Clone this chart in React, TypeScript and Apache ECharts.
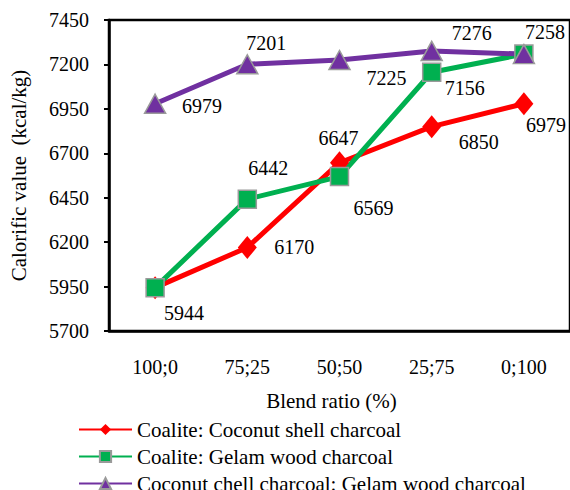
import React, { useEffect, useRef } from "react";
import * as echarts from "echarts";

const categories = ["100;0", "75;25", "50;50", "25;75", "0;100"];
const coconutShell = [5944, 6170, 6647, 6850, 6979];
const gelamWood = [5944, 6442, 6569, 7156, 7258];
const coconutGelam = [6979, 7201, 7225, 7276, 7258];
const seriesNames = [
  "Coalite: Coconut shell charcoal",
  "Coalite: Gelam wood charcoal",
  "Coconut chell charcoal: Gelam wood charcoal",
];

// label offsets (layout only); null = label hidden (shared value)
const redOffsets: ([number, number] | null)[] = [[29, 25], [47, 0], [-1, -25], [47, 15], [22, 21]];
const greenOffsets: ([number, number] | null)[] = [null, [21, -31], [34, 31], [33, 16], [21, -22]];
const purpleOffsets: ([number, number] | null)[] = [[47, 2], [19, -21], [47, 18], [40, -18], null];

const FONT = "Liberation Serif";

function withLabels(values: number[], offsets: ([number, number] | null)[]) {
  return values.map((v, i) => {
    const off = offsets[i];
    return {
      value: v,
      label: off
        ? { show: true, position: "inside", offset: off, color: "#000", fontSize: 20, fontFamily: FONT }
        : { show: false },
    };
  });
}

export default function App() {
  const ref = useRef<HTMLDivElement>(null);
  useEffect(() => {
    if (!ref.current) return;
    const chart = echarts.init(ref.current, undefined, { renderer: "svg" });
    chart.setOption({
      animation: false,
      backgroundColor: "#fff",
      textStyle: { fontFamily: FONT },
      grid: {
        left: 108,
        top: 20,
        right: -4,
        bottom: 159,
        show: true,
        borderColor: "#000",
        borderWidth: 2.5,
      },
      legend: {
        orient: "vertical",
        left: 78,
        top: 419,
        height: 100,
        padding: 0,
        itemWidth: 53,
        itemHeight: 14,
        itemGap: 6,
        textStyle: { fontSize: 21, fontFamily: FONT, color: "#000", lineHeight: 21 },
        data: seriesNames,
      },
      xAxis: {
        type: "category",
        data: categories,
        boundaryGap: true,
        name: "Blend ratio (%)",
        nameLocation: "middle",
        nameGap: 59,
        nameTextStyle: { fontSize: 21, fontFamily: FONT, color: "#000", padding: [0, 16, 0, 0] },
        axisLine: { lineStyle: { color: "#000", width: 2.5 } },
        axisTick: { alignWithLabel: true, length: 5, lineStyle: { color: "#000", width: 2 } },
        axisLabel: { fontSize: 20, fontFamily: FONT, color: "#000", margin: 26 },
        splitLine: { show: false },
      },
      yAxis: {
        type: "value",
        min: 5700,
        max: 7450,
        interval: 250,
        name: "Calorific value  (kcal/kg)",
        nameLocation: "middle",
        nameGap: 80,
        nameTextStyle: { fontSize: 21, fontFamily: FONT, color: "#000" },
        axisLine: { show: true, lineStyle: { color: "#000", width: 2.5 } },
        axisTick: { show: true, length: 5, lineStyle: { color: "#000", width: 2 } },
        axisLabel: {
          fontSize: 20,
          fontFamily: FONT,
          color: "#000",
          margin: 20,
          formatter: (v: number) => String(v),
        },
        splitLine: { show: false },
      },
      series: [
        {
          name: seriesNames[0],
          type: "line",
          data: withLabels(coconutShell, redOffsets),
          symbol: "diamond",
          symbolSize: [19, 23],
          lineStyle: { color: "#FF0000", width: 5 },
          itemStyle: { color: "#FF0000" },
        },
        {
          name: seriesNames[1],
          type: "line",
          data: withLabels(gelamWood, greenOffsets),
          symbol: "rect",
          symbolSize: 18,
          lineStyle: { color: "#00B050", width: 5 },
          itemStyle: { color: "#00B050", borderColor: "#9a9a9a", borderWidth: 1.5 },
        },
        {
          name: seriesNames[2],
          type: "line",
          data: withLabels(coconutGelam, purpleOffsets),
          symbol: "triangle",
          symbolSize: [21, 19],
          lineStyle: { color: "#7030A0", width: 5 },
          itemStyle: { color: "#7030A0", borderColor: "#9a9a9a", borderWidth: 1.5 },
        },
      ],
    });
    return () => chart.dispose();
  }, []);
  return (
    <div
      ref={ref}
      style={{ position: "fixed", left: 0, top: 0, width: 570, height: 490, background: "#fff" }}
    />
  );
}
